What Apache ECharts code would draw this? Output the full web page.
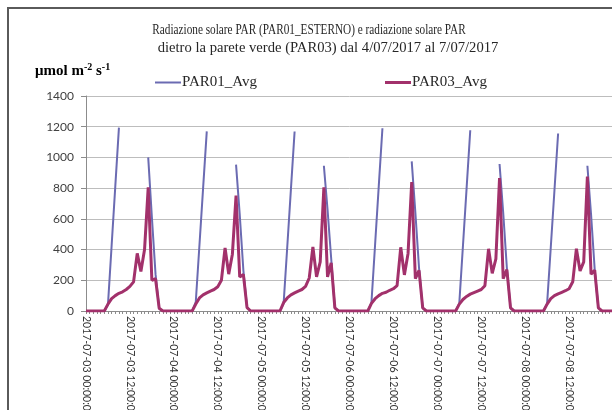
<!DOCTYPE html>
<html>
<head>
<meta charset="utf-8">
<script src="https://cdn.jsdelivr.net/npm/echarts@6/dist/echarts.min.js"></script>
<style>
html,body{margin:0;padding:0;background:#fff;}
#chart{width:612px;height:410px;}
</style>
</head>
<body>
<div id="chart"></div>
<script>
// ---- data ----
const dayLabels = ['2017-07-03','2017-07-04','2017-07-05','2017-07-06','2017-07-07','2017-07-08','2017-07-09'];
const hourLabels = ['00','01','02','03','04','05','06','07','08','09','10','11','12','13','14','15','16','17','18','19','20','21','22','23'];
const seriesNames = ['PAR01_Avg','PAR03_Avg'];
const titleLines = ['Radiazione solare PAR (PAR01_ESTERNO) e radiazione solare PAR',
                    'dietro la parete verde (PAR03) dal 4/07/2017 al 7/07/2017'];

const par01 = [
  0,0,0,0,0,0,40,425,810,1194,null,null,null,null,null,null,null,1000,610,240,15,0,0,0,
  0,0,0,0,0,0,60,430,800,1170,null,null,null,null,null,null,null,953,630,265,25,0,0,0,
  0,0,0,0,0,0,50,420,795,1169,null,null,null,null,null,null,null,946,660,340,20,0,0,0,
  0,0,0,0,0,0,55,435,815,1190,null,null,null,null,null,null,null,974,640,280,20,0,0,0,
  0,0,0,0,0,0,50,425,800,1177,null,null,null,null,null,null,null,957,640,280,20,0,0,0,
  0,0,0,0,0,0,50,415,785,1156,null,null,null,null,null,null,null,946,630,270,20,0,0,0,
  0
];
const par03 = [
  0,0,0,0,0,0,45,80,100,115,125,140,160,190,375,258,400,805,200,210,18,0,0,0,
  0,0,0,0,0,0,45,85,105,118,130,140,158,200,410,240,370,752,222,238,22,0,0,0,
  0,0,0,0,0,0,55,85,105,118,130,140,160,215,417,222,320,805,222,313,20,0,0,0,
  0,0,0,0,0,0,50,80,100,115,122,135,145,165,415,235,375,840,210,265,20,0,0,0,
  0,0,0,0,0,0,45,75,95,110,120,130,140,165,405,245,340,865,210,270,20,0,0,0,
  0,0,0,0,0,0,45,80,100,112,122,132,145,190,406,261,320,875,240,266,20,0,0,0,
  0
];

const categories = [];
for (let d = 0; d < 6; d++) {
  for (let h = 0; h < 24; h++) categories.push(dayLabels[d] + ' ' + hourLabels[h] + ':00:00');
}
categories.push(dayLabels[6] + ' 00:00:00');

const chart = echarts.init(document.getElementById('chart'));
const labelFont = 'Lato, "Liberation Sans", sans-serif';
const serif = '"Liberation Serif", "DejaVu Serif", serif';

chart.setOption({
  animation: false,
  backgroundColor: '#fff',
  grid: { left: 86, width: 527, top: 96, bottom: 99, containLabel: false, outerBoundsMode: 'none' },
  graphic: [
    { type: 'rect', shape: { x: 8, y: 8, width: 700, height: 500 },
      style: { fill: 'none', stroke: '#5a5a5a', lineWidth: 2 }, z: 100 },
    { type: 'text', x: 309, y: 23, scaleX: 0.75,
      style: { text: titleLines[0], font: '15px ' + serif, fill: '#262626', align: 'center' } },
    { type: 'text', x: 328, y: 41, scaleX: 0.975,
      style: { text: titleLines[1], font: '15px ' + serif, fill: '#262626', align: 'center' } },
    { type: 'text', x: 35, y: 62,
      style: { text: '{a|μmol m}{s|-2}{a| s}{s|-1}',
        rich: {
          a: { fontFamily: serif, fontWeight: 'bold', fontSize: 15, fill: '#000', lineHeight: 17, verticalAlign: 'bottom' },
          s: { fontFamily: serif, fontWeight: 'bold', fontSize: 10, fill: '#000', lineHeight: 10, verticalAlign: 'top' }
        } } }
  ],
  legend: [
    { data: [seriesNames[0]], left: 155, top: 75, padding: 0, icon: 'rect', itemWidth: 26, itemHeight: 2, itemGap: 0,
      textStyle: { fontFamily: serif, fontSize: 15, color: '#262626', padding: [0,0,0,-4] } },
    { data: [seriesNames[1]], left: 385, top: 75, padding: 0, icon: 'rect', itemWidth: 26, itemHeight: 3, itemGap: 0,
      textStyle: { fontFamily: serif, fontSize: 15, color: '#262626', padding: [0,0,0,-4] } }
  ],
  xAxis: {
    type: 'category', data: categories, boundaryGap: false,
    axisLine: { lineStyle: { color: '#8c8c8c', width: 1 } },
    axisTick: { interval: 0, length: 3, lineStyle: { color: '#8c8c8c' } },
    axisLabel: {
      interval: (i) => i % 12 === 0 && i < 144,
      rotate: -90, margin: 5, hideOverlap: false,
      fontFamily: labelFont, fontSize: 10.5, color: '#333'
    },
    splitLine: { show: false }
  },
  yAxis: {
    type: 'value', min: 0, max: 1400, interval: 200,
    axisLine: { show: true, lineStyle: { color: '#8c8c8c' } },
    axisTick: { show: true, length: 5, lineStyle: { color: '#8c8c8c' } },
    axisLabel: { margin: 12, fontFamily: labelFont, fontSize: 12, color: '#404040', formatter: (v) => String(v) },
    splitLine: { lineStyle: { color: '#bdbdbd', width: 1 } }
  },
  series: [
    { name: seriesNames[0], type: 'line', data: par01, symbol: 'none', connectNulls: false,
      lineStyle: { color: '#6b6bb2', width: 2 }, itemStyle: { color: '#6b6bb2' } },
    { name: seriesNames[1], type: 'line', data: par03, symbol: 'none',
      lineStyle: { color: '#a2316b', width: 3 }, itemStyle: { color: '#a2316b' } }
  ]
});
</script>
</body>
</html>
